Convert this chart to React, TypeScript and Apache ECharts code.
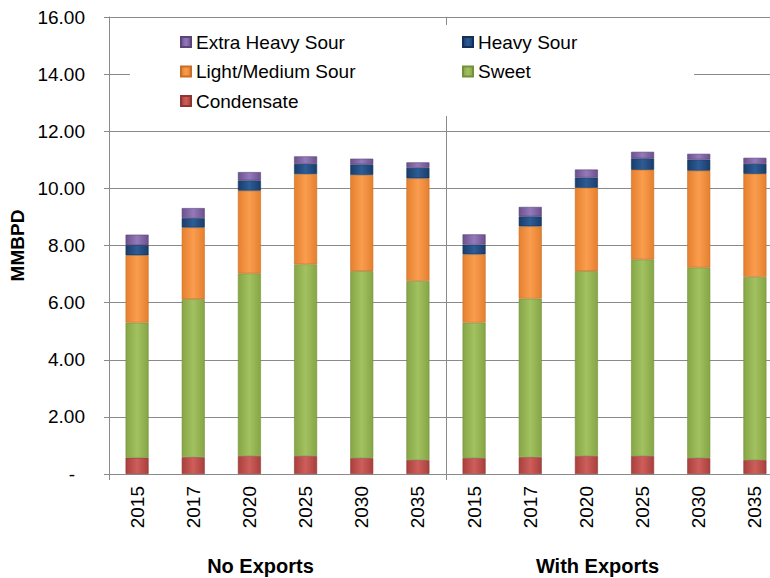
import React, { useEffect, useRef } from "react";
import * as echarts from "echarts";

const years = ["2015", "2017", "2020", "2025", "2030", "2035"];
const groups = ["No Exports", "With Exports"];
const categories = [...years, ...years];

const condensateNo = [0.57, 0.59, 0.63, 0.63, 0.56, 0.49];
const sweetNo = [4.73, 5.53, 6.39, 6.71, 6.54, 6.27];
const lightMediumNo = [2.36, 2.51, 2.9, 3.16, 3.37, 3.59];
const heavyNo = [0.35, 0.33, 0.36, 0.36, 0.37, 0.37];
const extraHeavyNo = [0.37, 0.35, 0.29, 0.26, 0.2, 0.19];

const condensateWith = [0.56, 0.59, 0.63, 0.63, 0.56, 0.49];
const sweetWith = [4.74, 5.55, 6.47, 6.88, 6.67, 6.41];
const lightMediumWith = [2.39, 2.53, 2.92, 3.14, 3.39, 3.61];
const heavyWith = [0.34, 0.35, 0.36, 0.4, 0.39, 0.35];
const extraHeavyWith = [0.36, 0.33, 0.28, 0.23, 0.2, 0.21];

const yTicks = { min: 0, max: 16, interval: 2 };

const FONT = '"Liberation Sans", Arial, sans-serif';
const GRID_COLOR = "#8a8a8a";

function grad(edge: string, mid: string) {
  return new echarts.graphic.LinearGradient(0, 0, 1, 0, [
    { offset: 0, color: edge },
    { offset: 0.5, color: mid },
    { offset: 1, color: edge },
  ]);
}

export default function App() {
  const ref = useRef<HTMLDivElement>(null);
  useEffect(() => {
    if (!ref.current) return;
    const chart = echarts.init(ref.current, undefined, { renderer: "svg" });

    const seriesDefs = [
      { name: "Condensate", no: condensateNo, wi: condensateWith, edge: "#A8403D", mid: "#CE5E5A", border: "#8E3532", icon: "#C0504D" },
      { name: "Sweet", no: sweetNo, wi: sweetWith, edge: "#86A545", mid: "#A2C262", border: "#74903A", icon: "#9BBB59" },
      { name: "Light/Medium Sour", no: lightMediumNo, wi: lightMediumWith, edge: "#E5802F", mid: "#FA9D4E", border: "#C86E26", icon: "#F79646" },
      { name: "Heavy Sour", no: heavyNo, wi: heavyWith, edge: "#193D6A", mid: "#2E5C96", border: "#12305A", icon: "#1F497D" },
      { name: "Extra Heavy Sour", no: extraHeavyNo, wi: extraHeavyWith, edge: "#6B518C", mid: "#957ABA", border: "#5B4478", icon: "#8064A2" },
    ];

    const textBase = { fontFamily: FONT, fontSize: 19, color: "#000" };

    chart.setOption({
      animation: false,
      backgroundColor: "#fff",
      grid: {
        left: 109,
        top: 17,
        width: 674,
        height: 457,
        containLabel: false,
        outerBoundsMode: "none",
      },
      graphic: [
        {
          type: "rect",
          z: 3,
          shape: { x: 130, y: 25, width: 564, height: 91 },
          style: { fill: "#fff" },
        },
      ],
      legend: [
        {
          orient: "vertical",
          left: 180,
          top: 32,
          padding: 0,
          itemWidth: 10,
          itemHeight: 10,
          itemGap: 9.5,
          icon: "rect",
          z: 5,
          textStyle: { ...textBase, lineHeight: 20 },
          data: ["Extra Heavy Sour", "Light/Medium Sour", "Condensate"],
        },
        {
          orient: "vertical",
          left: 462,
          top: 32,
          padding: 0,
          itemWidth: 10,
          itemHeight: 10,
          itemGap: 9.5,
          icon: "rect",
          z: 5,
          textStyle: { ...textBase, lineHeight: 20 },
          data: ["Heavy Sour", "Sweet"],
        },
      ],
      xAxis: [
        {
          type: "category",
          data: categories,
          position: "bottom",
          boundaryGap: true,
          axisLine: { show: true, lineStyle: { color: GRID_COLOR, width: 1 } },
          axisTick: {
            show: true,
            length: 6,
            interval: (i: number) => i % 6 === 0,
            lineStyle: { color: GRID_COLOR },
          },
          splitLine: {
            show: true,
            interval: (i: number) => i % 6 === 0,
            lineStyle: { color: GRID_COLOR, width: 1 },
          },
          axisLabel: { ...textBase, rotate: 90, margin: 12, interval: 0 },
        },
        {
          type: "category",
          data: groups,
          position: "bottom",
          boundaryGap: true,
          axisLine: { show: false },
          axisTick: { show: false },
          splitLine: { show: false },
          axisLabel: {
            ...textBase,
            fontSize: 20,
            fontWeight: "bold",
            margin: 82,
            padding: [0, 34, 0, 0],
            interval: 0,
          },
        },
      ],
      yAxis: {
        type: "value",
        min: yTicks.min,
        max: yTicks.max,
        interval: yTicks.interval,
        name: "MMBPD",
        nameLocation: "middle",
        nameGap: 80,
        nameTextStyle: { ...textBase, fontWeight: "bold", fontSize: 19 },
        axisLine: { show: true, lineStyle: { color: GRID_COLOR, width: 1 } },
        axisTick: { show: true, length: 5, lineStyle: { color: GRID_COLOR } },
        splitLine: { show: true, lineStyle: { color: GRID_COLOR, width: 1 } },
        axisLabel: {
          ...textBase,
          margin: 24,
          formatter: (v: number) => (v === 0 ? "{z|-}" : v.toFixed(2)),
          rich: { z: { ...textBase, padding: [0, 10, 0, 0] } },
        },
      },
      series: seriesDefs.map((s) => ({
        name: s.name,
        type: "bar",
        stack: "total",
        xAxisIndex: 0,
        barWidth: 23,
        data: [...s.no, ...s.wi],
        itemStyle: {
          color: grad(s.edge, s.mid),
          borderColor: s.border,
          borderWidth: 0.6,
        },
        emphasis: { disabled: true },
      })),
      color: seriesDefs.map((s) => s.icon),
    });

    return () => chart.dispose();
  }, []);

  return (
    <div
      ref={ref}
      style={{ position: "fixed", left: 0, top: 0, width: 770, height: 578 }}
    />
  );
}
